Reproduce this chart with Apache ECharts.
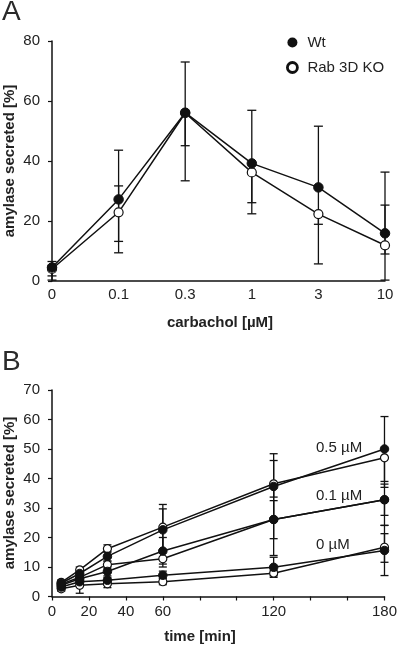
<!DOCTYPE html>
<html>
<head>
<meta charset="utf-8">
<script src="https://cdn.jsdelivr.net/npm/echarts@6/dist/echarts.min.js"></script>
<style>
html,body{margin:0;padding:0;background:#fff;}
#c{width:400px;height:646px;}
</style>
</head>
<body>
<div id="c"></div>
<script>
// ---------- Panel A data ----------
const catA = ['0', '0.1', '0.3', '1', '3', '10'];
const wtA = [4.5, 27.2, 56.1, 39.2, 31.2, 15.9];
const koA = [4.0, 22.9, 56.0, 36.2, 22.3, 11.9];
const wtA_lo = [1.7, 9.4, 45.1, 22.4, 18.9, 9.0];
const wtA_hi = [6.5, 43.6, 73.0, 56.9, 51.6, 36.3];
const koA_lo = [0.3, 13.2, 33.4, 26.1, 5.7, 0.3];
const koA_hi = [5.2, 31.7, 56.0, 36.2, 22.3, 25.3];
const yTicksA = [0, 20, 40, 60, 80];

// ---------- Panel B data ----------
const timeB = [5, 15, 30, 60, 120, 180];
const xTickLabelsB = [0, 20, 40, 60, 120, 180];
const wt0 = [3.2, 5.0, 5.5, 7.2, 9.9, 15.6];
const ko0 = [2.6, 3.8, 4.3, 5.0, 7.9, 16.7];
const wt01 = [3.8, 6.0, 8.5, 15.4, 26.1, 32.8];
const ko01 = [4.2, 6.5, 10.8, 12.8, 26.1, 32.8];
const wt05 = [4.5, 7.8, 13.6, 22.6, 37.3, 50.0];
const ko05 = [4.8, 9.0, 16.2, 23.5, 38.2, 47.0];

const wt0_lo = [2.5, 4.0, 4.5, 6.0, 6.5, 7.1];
const wt0_hi = [4.0, 6.0, 6.5, 8.6, 13.3, 24.1];
const ko0_lo = [1.8, 1.1, 3.0, 4.0, 7.0, 11.6];
const ko0_hi = [3.4, 6.5, 5.6, 6.2, 8.8, 21.3];
const wt01_lo = [3.0, 5.0, 7.0, 11.0, 19.6, 27.5];
const wt01_hi = [4.6, 7.0, 10.0, 20.0, 32.5, 38.1];
const ko01_lo = [3.4, 5.5, 9.5, 10.0, 13.9, 24.1];
const ko01_hi = [5.0, 7.5, 12.0, 15.5, 38.3, 32.8];
const wt05_lo = [3.7, 6.5, 12.0, 15.5, 26.3, 39.0];
const wt05_hi = [5.3, 9.0, 15.2, 29.7, 48.4, 61.0];
const ko05_lo = [4.0, 8.0, 15.0, 15.8, 33.7, 37.0];
const ko05_hi = [5.6, 10.0, 17.5, 31.2, 46.1, 47.0];

const concLabels = ['0.5 µM', '0.1 µM', '0 µM'];

// ---------- helpers ----------
const INK = '#111';
const TXT = '#222';
const FONT = 'Liberation Sans, Arial, sans-serif';

function errSeries(name, xs, lo, hi, xi, yi, cap) {
  return {
    type: 'custom',
    name: name,
    xAxisIndex: xi, yAxisIndex: yi,
    clip: false,
    z: 2,
    silent: true,
    encode: {x: 0, y: [1, 2]},
    data: xs.map((x, i) => [x, lo[i], hi[i]]),
    renderItem: function (params, api) {
      const x = api.value(0), l = api.value(1), h = api.value(2);
      const p1 = api.coord([x, l]);
      const p2 = api.coord([x, h]);
      const st = {stroke: INK, lineWidth: 1.3};
      return {
        type: 'group',
        children: [
          {type: 'line', shape: {x1: p1[0], y1: p1[1], x2: p2[0], y2: p2[1]}, style: st},
          {type: 'line', shape: {x1: p1[0] - cap, y1: p1[1], x2: p1[0] + cap, y2: p1[1]}, style: st},
          {type: 'line', shape: {x1: p2[0] - cap, y1: p2[1], x2: p2[0] + cap, y2: p2[1]}, style: st}
        ]
      };
    }
  };
}

function lineSeries(name, data, filled, xi, yi, size) {
  return {
    type: 'line',
    name: name,
    xAxisIndex: xi, yAxisIndex: yi,
    data: data,
    clip: false,
    z: 3,
    symbol: 'circle',
    symbolSize: size,
    showAllSymbol: true,
    lineStyle: {color: INK, width: 1.5},
    itemStyle: filled ? {color: INK, borderColor: INK, borderWidth: 1}
                      : {color: '#fff', borderColor: INK, borderWidth: 1.2},
    emphasis: {disabled: true},
    animation: false
  };
}

const pairB = (ys) => timeB.map((t, i) => [t, ys[i]]);

const chart = echarts.init(document.getElementById('c'), null, {renderer: 'canvas'});

const axisLabelStyle = {color: TXT, fontSize: 15, fontFamily: FONT};

const option = {
  animation: false,
  backgroundColor: '#fff',
  textStyle: {fontFamily: FONT},
  grid: [
    {left: 52, top: 41, width: 333, height: 240},
    {left: 52, top: 390, width: 333, height: 206.5}
  ],
  xAxis: [
    {
      type: 'category', gridIndex: 0, data: catA, boundaryGap: false,
      axisLine: {lineStyle: {color: INK, width: 1.5}},
      axisTick: {show: false},
      axisLabel: Object.assign({margin: 6, interval: 0}, axisLabelStyle),
      splitLine: {show: false}
    },
    {
      type: 'value', gridIndex: 1, min: 0, max: 180, interval: 20,
      axisLine: {lineStyle: {color: INK, width: 1.5}},
      axisTick: {show: true, inside: false, length: 4, lineStyle: {color: INK, width: 1.2}},
      axisLabel: Object.assign({
        margin: 8,
        formatter: (v) => xTickLabelsB.indexOf(v) >= 0 ? String(v) : ''
      }, axisLabelStyle),
      splitLine: {show: false}
    }
  ],
  yAxis: [
    {
      type: 'value', gridIndex: 0, min: yTicksA[0], max: yTicksA[yTicksA.length - 1], interval: 20,
      axisLine: {show: true, lineStyle: {color: INK, width: 1.5}},
      axisTick: {show: true, length: 4, lineStyle: {color: INK, width: 1.2}},
      axisLabel: Object.assign({margin: 12}, axisLabelStyle),
      splitLine: {show: false}
    },
    {
      type: 'value', gridIndex: 1, min: 0, max: 70, interval: 10,
      axisLine: {show: true, lineStyle: {color: INK, width: 1.5}},
      axisTick: {show: true, length: 4, lineStyle: {color: INK, width: 1.2}},
      axisLabel: Object.assign({margin: 12}, axisLabelStyle),
      splitLine: {show: false}
    }
  ],
  legend: {
    left: 286, top: 35, orient: 'vertical', padding: 0,
    itemWidth: 10, itemHeight: 10, itemGap: 10,
    textStyle: {color: TXT, fontSize: 15, fontFamily: FONT, padding: [0, 0, 0, 5]},
    selectedMode: false,
    data: [
      {name: 'Wt', icon: 'circle', itemStyle: {color: INK, borderColor: INK, borderWidth: 0}},
      {name: 'Rab 3D KO', icon: 'circle', itemStyle: {color: '#fff', borderColor: INK, borderWidth: 2.8}}
    ]
  },
  series: [
    errSeries('errWt', catA.map((c, i) => i), wtA_lo, wtA_hi, 0, 0, 4.5),
    errSeries('errKo', catA.map((c, i) => i), koA_lo, koA_hi, 0, 0, 4.5),
    lineSeries('Rab 3D KO', koA, false, 0, 0, 9),
    lineSeries('Wt', wtA, true, 0, 0, 9.5),

    errSeries('e1', timeB, wt0_lo, wt0_hi, 1, 1, 4),
    errSeries('e2', timeB, ko0_lo, ko0_hi, 1, 1, 4),
    errSeries('e3', timeB, wt01_lo, wt01_hi, 1, 1, 4),
    errSeries('e4', timeB, ko01_lo, ko01_hi, 1, 1, 4),
    errSeries('e5', timeB, wt05_lo, wt05_hi, 1, 1, 4),
    errSeries('e6', timeB, ko05_lo, ko05_hi, 1, 1, 4),
    lineSeries('KO 0 µM', pairB(ko0), false, 1, 1, 8),
    lineSeries('KO 0.1 µM', pairB(ko01), false, 1, 1, 8),
    lineSeries('KO 0.5 µM', pairB(ko05), false, 1, 1, 8),
    lineSeries('Wt 0 µM', pairB(wt0), true, 1, 1, 8.5),
    lineSeries('Wt 0.1 µM', pairB(wt01), true, 1, 1, 8.5),
    lineSeries('Wt 0.5 µM', pairB(wt05), true, 1, 1, 8.5)
  ],
  graphic: [
    {type: 'text', x: 2, y: 12, style: {text: 'A', font: '28px ' + FONT, fill: '#2a2a2a', verticalAlign: 'middle'}},
    {type: 'text', x: 2, y: 362, style: {text: 'B', font: '28px ' + FONT, fill: '#2a2a2a', verticalAlign: 'middle'}},
    {type: 'text', x: 220, y: 323, style: {text: 'carbachol [µM]', font: 'bold 15px ' + FONT, fill: TXT, align: 'center', verticalAlign: 'middle'}},
    {type: 'text', x: 200, y: 637, style: {text: 'time [min]', font: 'bold 15px ' + FONT, fill: TXT, align: 'center', verticalAlign: 'middle'}},
    {type: 'text', x: 10, y: 161, rotation: Math.PI / 2, style: {text: 'amylase secreted [%]', font: 'bold 15px ' + FONT, fill: TXT, align: 'center', verticalAlign: 'middle'}},
    {type: 'text', x: 10, y: 493, rotation: Math.PI / 2, style: {text: 'amylase secreted [%]', font: 'bold 15px ' + FONT, fill: TXT, align: 'center', verticalAlign: 'middle'}},
    {type: 'text', x: 316, y: 448, style: {text: concLabels[0], font: '15px ' + FONT, fill: TXT, verticalAlign: 'middle'}},
    {type: 'text', x: 316, y: 496, style: {text: concLabels[1], font: '15px ' + FONT, fill: TXT, verticalAlign: 'middle'}},
    {type: 'text', x: 316, y: 545, style: {text: concLabels[2], font: '15px ' + FONT, fill: TXT, verticalAlign: 'middle'}}
  ]
};
chart.setOption(option);
</script>
</body>
</html>
